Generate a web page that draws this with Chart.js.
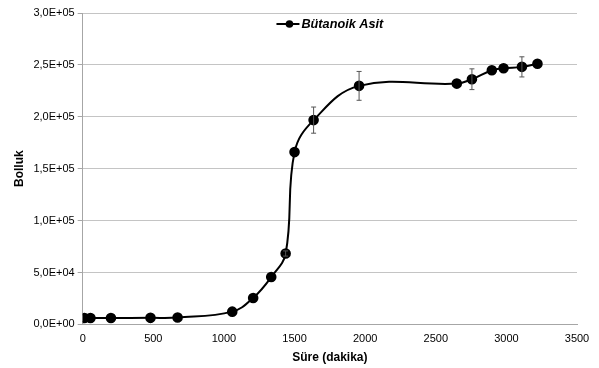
<!DOCTYPE html>
<html>
<head>
<meta charset="utf-8">
<script src="https://cdn.jsdelivr.net/npm/chart.js@4/dist/chart.umd.min.js"></script>
<style>
  html, body { margin: 0; padding: 0; background: #fff; }
  #wrap { width: 599px; height: 368px; }
</style>
</head>
<body>
<div id="wrap"><canvas id="chart"></canvas></div>
<script>
// time (minutes), abundance and error of each point
const times = [12, 55, 200, 480, 672, 1059, 1207, 1335, 1437, 1500, 1635, 1957, 2649, 2756, 2897, 2980, 3110, 3220];
const abundance = [6100, 6100, 6100, 6300, 6600, 12300, 25500, 45600, 68300, 166000, 196800, 229800, 232000, 236200, 244900, 246800, 248100, 251100];
const errors = [0, 0, 0, 0, 0, 0, 0, 0, 2500, 0, 12600, 13900, 0, 10000, 0, 0, 9700, 0];
const seriesName = "Bütanoik Asit";

const fmtSci = (v) => {
  if (v === 0) return "0,0E+00";
  const e = Math.floor(Math.log10(v));
  const m = (v / Math.pow(10, e)).toFixed(1).replace(".", ",");
  return m + "E+" + String(e).padStart(2, "0");
};

const errorBars = {
  id: "errorBars",
  afterDatasetsDraw(chart) {
    const { ctx, scales } = chart;
    ctx.save();
    ctx.strokeStyle = "#555";
    ctx.lineWidth = 1;
    errors.forEach((err, i) => {
      if (!err) return;
      const x = scales.x.getPixelForValue(times[i]);
      const y1 = scales.y.getPixelForValue(abundance[i] + err);
      const y2 = scales.y.getPixelForValue(abundance[i] - err);
      ctx.beginPath();
      ctx.moveTo(x, y1); ctx.lineTo(x, y2);
      ctx.moveTo(x - 2.5, y1); ctx.lineTo(x + 2.5, y1);
      ctx.moveTo(x - 2.5, y2); ctx.lineTo(x + 2.5, y2);
      ctx.stroke();
    });
    ctx.restore();
  }
};

// legend sits inside the plot, centred near the top
const insideLegend = {
  id: "insideLegend",
  afterDraw(chart) {
    const { ctx, chartArea } = chart;
    ctx.save();
    ctx.font = "italic bold 12.7px 'Liberation Sans', Arial, sans-serif";
    const tw = ctx.measureText(seriesName).width;
    const mw = 23;
    const total = mw + 2 + tw;
    const x0 = (chartArea.left + chartArea.right) / 2 - total / 2;
    const y = chartArea.top + 11;
    ctx.strokeStyle = "#000";
    ctx.fillStyle = "#000";
    ctx.lineWidth = 2;
    ctx.beginPath();
    ctx.moveTo(x0, y);
    ctx.lineTo(x0 + mw, y);
    ctx.stroke();
    ctx.beginPath();
    ctx.arc(x0 + 13, y, 3.8, 0, Math.PI * 2);
    ctx.fill();
    ctx.textBaseline = "middle";
    ctx.fillText(seriesName, x0 + mw + 2, y);
    ctx.restore();
  }
};

Chart.defaults.font.family = "'Liberation Sans', Arial, sans-serif";
Chart.defaults.color = "#000";

new Chart(document.getElementById("chart"), {
  type: "line",
  data: {
    datasets: [{
      label: seriesName,
      data: times.map((t, i) => ({ x: t, y: abundance[i] })),
      borderColor: "#000",
      backgroundColor: "#000",
      borderWidth: 2,
      pointRadius: 4.3,
      pointHoverRadius: 4.3,
      tension: 0.4,
      fill: false
    }]
  },
  options: {
    animation: false,
    responsive: true,
    maintainAspectRatio: false,
    layout: { padding: { top: 13, right: 22, left: 8, bottom: 2 } },
    plugins: {
      tooltip: { enabled: false },
      legend: { display: false }
    },
    scales: {
      x: {
        type: "linear",
        min: 0,
        max: 3500,
        ticks: { stepSize: 500, font: { size: 11 }, color: "#000", padding: 3, callback: (v) => String(v) },
        grid: { display: false, drawOnChartArea: false, drawTicks: true, tickLength: 5, tickColor: "#a6a6a6" },
        border: { color: "#a6a6a6" },
        title: { display: true, text: "Süre (dakika)", font: { size: 12, weight: "bold" }, padding: { top: 2, bottom: 1 } }
      },
      y: {
        min: 0,
        max: 300000,
        ticks: { stepSize: 50000, font: { size: 11 }, color: "#000", padding: 3, callback: (v) => fmtSci(v) },
        grid: { color: "#c4c4c4", tickLength: 5, tickColor: "#a6a6a6" },
        border: { color: "#a6a6a6" },
        title: { display: true, text: "Bolluk", font: { size: 12, weight: "bold" }, padding: { bottom: 4 } }
      }
    }
  },
  plugins: [errorBars, insideLegend]
});
</script>
</body>
</html>
